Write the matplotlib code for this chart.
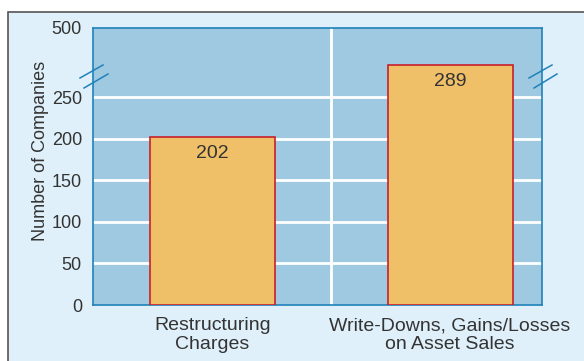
import matplotlib
matplotlib.use("Agg")
import matplotlib.pyplot as plt
from matplotlib.patches import Rectangle
from matplotlib.lines import Line2D

categories = ["Restructuring\nCharges", "Write-Downs, Gains/Losses\non Asset Sales"]
companies = [202, 289]
tick_values = [0, 50, 100, 150, 200, 250]
top_label = "500"

plt.rcParams['font.family'] = ['Liberation Sans', 'DejaVu Sans']

outer_bg = "#dff0fa"
plot_bg = "#9ec9e0"
axis_blue = "#1f82b8"
text_col = "#333333"

fig = plt.figure(figsize=(5.84, 3.61), dpi=100)
fig.patch.set_facecolor("white")

# outer framed panel (cut off at right/bottom like the source)
fig.patches.append(Rectangle((8 / 584, -0.05), 1.0, 1 - 12 / 361 + 0.05,
                             transform=fig.transFigure, facecolor=outer_bg,
                             edgecolor="#555555", linewidth=1.2, zorder=0))

ax = fig.add_axes([93 / 584, 1 - 305 / 361, 449 / 584, 277 / 361])
ax.set_zorder(2)
ax.set_facecolor(plot_bg)

x = [0, 1]
ax.bar(x, companies, width=0.526, color="#f0c068", edgecolor="#c8202a",
       linewidth=1.2, zorder=3)
for xi, v in zip(x, companies):
    ax.text(xi, v - 10, str(v), ha="center", va="top", fontsize=14,
            color=text_col, zorder=4)

top = 333
ax.set_xlim(-0.503, 1.387)
ax.set_ylim(0, top)
ax.set_yticks(tick_values + [top])
ax.set_yticklabels([str(t) for t in tick_values] + [top_label])
ax.set_xticks(x)
ax.set_xticklabels(categories, linespacing=1.1, fontsize=14)

for t in tick_values[1:]:
    ax.axhline(t, color="white", linewidth=2, zorder=1)
ax.axvline(0.5, color="white", linewidth=2, zorder=1)

ax.tick_params(axis="y", length=0, labelsize=13, labelcolor=text_col, pad=8)
ax.tick_params(axis="x", length=0, labelcolor=text_col, pad=9)
for s in ax.spines.values():
    s.set_color(axis_blue)
    s.set_linewidth(1.2)

ax.set_ylabel("Number of Companies", fontsize=13, color=text_col)
ax.yaxis.set_label_coords(-0.098, 0.556)

# break marks on the axis sides
def brk(px0, py0, px1, py1):
    fig.lines.append(Line2D([px0 / 584, px1 / 584], [1 - py0 / 361, 1 - py1 / 361],
                            transform=fig.transFigure, color=axis_blue,
                            linewidth=1.1, zorder=5))

brk(80, 78, 103, 65)
brk(84, 88, 108, 74)
brk(529, 78, 552, 65)
brk(534, 88, 557, 74)

fig.savefig("out.png", dpi=100, facecolor=fig.get_facecolor())
